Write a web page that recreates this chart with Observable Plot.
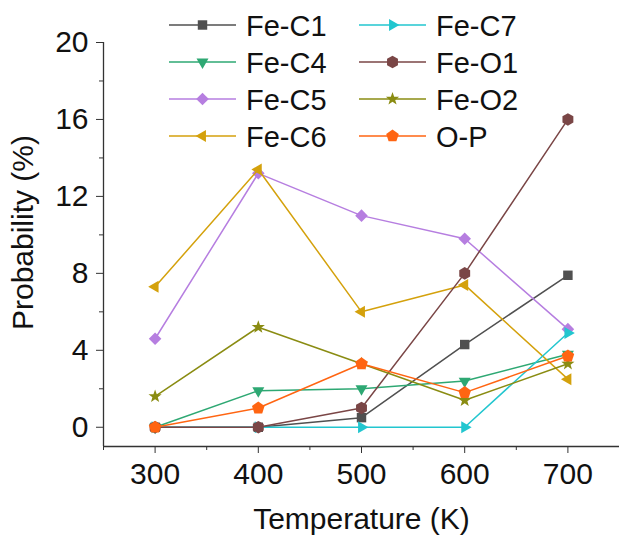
<!DOCTYPE html>
<html><head><meta charset="utf-8">
<script src="https://cdn.jsdelivr.net/npm/d3@7"></script>
<script src="https://cdn.jsdelivr.net/npm/@observablehq/plot@0.6"></script>
<style>body{margin:0;background:#fff} #chart{width:619px;height:538px}</style>
</head><body><div id="chart"></div>
<script>
// ---- data ----
const temperatures = [300, 400, 500, 600, 700];
const seriesNames = ["Fe-C1", "Fe-C4", "Fe-C5", "Fe-C6", "Fe-C7", "Fe-O1", "Fe-O2", "O-P"];
const feC1 = [0, 0, 0.5, 4.3, 7.9];
const feC4 = [0, 1.9, 2.0, 2.4, 3.8];
const feC5 = [4.6, 13.2, 11.0, 9.8, 5.1];
const feC6 = [7.3, 13.4, 6.0, 7.4, 2.5];
const feC7 = [0, 0, 0, 0, 4.9];
const feO1 = [0, 0, 1.0, 8.0, 16.0];
const feO2 = [1.6, 5.2, 3.3, 1.4, 3.3];
const oP = [0, 1.0, 3.3, 1.8, 3.7];
const seriesValues = [feC1, feC4, feC5, feC6, feC7, feO1, feO2, oP];
const seriesColors = ["#505050", "#2ea873", "#b67ee0", "#d4a10c", "#22c6cf", "#7a4646", "#8a8c12", "#ff6512"];
const seriesShapes = ["square", "triangleDown", "diamond", "triangleLeft", "triangleRight", "hexagon", "star", "pentagon"];
const xTicks = [300, 400, 500, 600, 700];
const xMinorTicks = [250, 350, 450, 550, 650, 750];
const yTicks = [0, 4, 8, 12, 16, 20];
const yMinorTicks = [2, 6, 10, 14, 18];
const xLabel = "Temperature (K)";
const yLabel = "Probability (%)";

// ---- symbols ----
function regular(n, k, a0) {
  return {draw(ctx, size) {
    const r = Math.sqrt(size / Math.PI) * k;
    for (let i = 0; i < n; i++) {
      const a = a0 + i * 2 * Math.PI / n;
      const x = r * Math.cos(a), y = r * Math.sin(a);
      i ? ctx.lineTo(x, y) : ctx.moveTo(x, y);
    }
    ctx.closePath();
  }};
}
const starSym = {draw(ctx, size) {
  const r = Math.sqrt(size / Math.PI);
  for (let i = 0; i < 10; i++) {
    const a = -Math.PI / 2 + i * Math.PI / 5;
    const rr = i % 2 ? r * 0.45 : r * 1.1;
    const x = rr * Math.cos(a), y = rr * Math.sin(a);
    i ? ctx.lineTo(x, y) : ctx.moveTo(x, y);
  }
  ctx.closePath();
}};
const symbols = {
  square: regular(4, 0.75 * Math.SQRT2, Math.PI / 4),
  triangleDown: regular(3, 1.1, Math.PI / 2),
  diamond: regular(4, 1.0, 0),
  triangleLeft: regular(3, 1.1, Math.PI),
  triangleRight: regular(3, 1.1, 0),
  hexagon: regular(6, 1.0, -Math.PI / 2),
  star: starSym,
  pentagon: regular(5, 1.05, -Math.PI / 2)
};

const font = "'Liberation Sans', Arial, sans-serif";
const axisColor = "#333";

const seriesMarks = seriesNames.flatMap((name, i) => {
  const rows = temperatures.map((t, j) => ({t, v: seriesValues[i][j]}));
  return [
    Plot.line(rows, {x: "t", y: "v", stroke: seriesColors[i], strokeWidth: 1.5}),
    Plot.dot(rows, {x: "t", y: "v", symbol: symbols[seriesShapes[i]], fill: seriesColors[i], r: 6.3})
  ];
});

const chart = Plot.plot({
  width: 619, height: 538,
  marginLeft: 103, marginRight: 0, marginTop: 42, marginBottom: 92,
  x: {domain: [250, 750]},
  y: {domain: [-1, 20]},
  style: {fontFamily: font, fontSize: "30px", color: "#111", background: "#fff"},
  marks: [
    Plot.ruleX([250], {stroke: axisColor, strokeWidth: 1.3}),
    Plot.ruleY([-1], {stroke: axisColor, strokeWidth: 1.3}),
    Plot.axisX(xTicks, {tickSize: 7, tickPadding: 9, label: null, stroke: axisColor, fontSize: 30}),
    Plot.axisX(xMinorTicks, {tickSize: 4, text: null, label: null, stroke: axisColor}),
    Plot.axisY(yTicks, {tickSize: 7, tickPadding: 8, label: null, stroke: axisColor, fontSize: 30}),
    Plot.axisY(yMinorTicks, {tickSize: 4, text: null, label: null, stroke: axisColor}),
    Plot.text([xLabel], {text: d => d, frameAnchor: "bottom", dy: 82, fontSize: 30, fill: "#111"}),
    Plot.text([yLabel], {text: d => d, frameAnchor: "left", textAnchor: "middle", lineAnchor: "middle", rotate: -90, dx: -80, dy: -12, fontSize: 30, fill: "#111"}),
    ...seriesMarks
  ]
});
document.getElementById("chart").appendChild(chart);

// ---- legend (two columns of four) ----
const svg = d3.select(chart);
const lg = svg.append("g").attr("font-family", font).attr("font-size", 29).attr("text-anchor", "start");
seriesNames.forEach((name, i) => {
  const col = Math.floor(i / 4), row = i % 4;
  const lineX0 = col ? 359 : 169, lineX1 = lineX0 + 67;
  const cy = 25 + row * 37;
  const g = lg.append("g");
  g.append("line").attr("x1", lineX0).attr("x2", lineX1).attr("y1", cy).attr("y2", cy)
    .attr("stroke", seriesColors[i]).attr("stroke-width", 1.5);
  g.append("path").attr("transform", `translate(${(lineX0 + lineX1) / 2},${cy})`)
    .attr("d", d3.symbol(symbols[seriesShapes[i]], 6.3 * 6.3 * Math.PI)())
    .attr("fill", seriesColors[i]);
  g.append("text").attr("x", lineX1 + 10).attr("y", cy + 10.5).attr("fill", "#111")
    .attr("text-anchor", "start").text(name);
});
</script>
</body></html>
